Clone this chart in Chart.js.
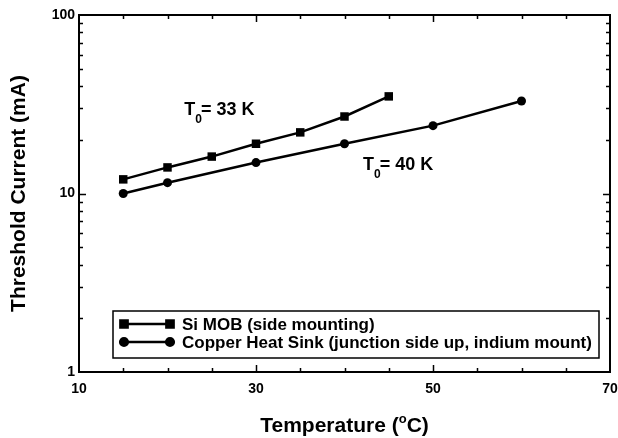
<!DOCTYPE html>
<html>
<head>
<meta charset="utf-8">
<script src="https://cdn.jsdelivr.net/npm/chart.js@4/dist/chart.umd.min.js"></script>
<style>
  html, body { margin: 0; padding: 0; background: #fff; }
  canvas { display: block; }
</style>
</head>
<body>
<canvas id="chart" width="618" height="438"></canvas>
<script>
// Data
const siTemps = [15, 20, 25, 30, 35, 40, 45];
const siCurrent = [12, 14, 16.1, 19, 22, 27, 35];
const cuTemps = [15, 20, 30, 40, 50, 60];
const cuCurrent = [10, 11.5, 14.9, 19, 24, 33];
const seriesLabels = ['Si MOB (side mounting)', 'Copper Heat Sink (junction side up, indium mount)'];
const xTicks = [10, 30, 50, 70];
const yTicks = [1, 10, 100];
const t0Labels = ['33 K', '40 K'];
const xTitle = ['Temperature (', 'o', 'C)'];
const yTitle = 'Threshold Current (mA)';

const FONT = '"Liberation Sans", Arial, Helvetica, sans-serif';

function pairs(xs, ys) {
  return xs.map((x, i) => ({ x, y: ys[i] }));
}

// Frame, inward ticks on all four sides, legend box, notes and x title
const decor = {
  id: 'decor',
  afterDraw(chart, args, opts) {
    const { ctx, chartArea: a, scales: { x, y } } = chart;
    ctx.save();
    ctx.strokeStyle = '#000';
    ctx.fillStyle = '#000';

    ctx.lineWidth = 2;
    ctx.strokeRect(a.left, a.top, a.right - a.left, a.bottom - a.top);

    ctx.lineWidth = 1.5;
    ctx.beginPath();
    for (let t = 15; t < 70; t += 5) {
      const px = Math.round(x.getPixelForValue(t)) + 0.5;
      const len = xTicks.includes(t) ? 7 : 4;
      ctx.moveTo(px, a.bottom); ctx.lineTo(px, a.bottom - len);
      ctx.moveTo(px, a.top); ctx.lineTo(px, a.top + len);
    }
    for (let d = 1; d < 100; d *= 10) {
      for (let k = 1; k <= 9; k++) {
        const v = d * k;
        if (v === 1) continue;
        const py = Math.round(y.getPixelForValue(v)) + 0.5;
        const len = k === 1 ? 7 : 4;
        ctx.moveTo(a.left, py); ctx.lineTo(a.left + len, py);
        ctx.moveTo(a.right, py); ctx.lineTo(a.right - len, py);
      }
    }
    ctx.stroke();

    // legend
    const lb = opts.legend;
    const bx = a.left + lb.left, by = a.top + lb.top;
    const bw = a.right - lb.right - bx, bh = a.bottom - lb.bottom - by;
    ctx.fillStyle = '#fff';
    ctx.fillRect(bx, by, bw, bh);
    ctx.fillStyle = '#000';
    ctx.lineWidth = 1.5;
    ctx.strokeRect(bx, by, bw, bh);
    ctx.font = 'bold 17px ' + FONT;
    ctx.textBaseline = 'middle';
    ctx.textAlign = 'left';
    chart.data.datasets.forEach((ds, i) => {
      const ry = by + lb.row0 + i * lb.rowGap;
      const x0 = bx + lb.sampleStart, x1 = x0 + lb.sampleLen;
      ctx.lineWidth = ds.borderWidth;
      ctx.beginPath(); ctx.moveTo(x0, ry); ctx.lineTo(x1, ry); ctx.stroke();
      [x0, x1].forEach(px => {
        Chart.helpers.drawPoint(ctx, { pointStyle: ds.pointStyle, radius: ds.pointRadius * 0.85, rotation: 0, borderWidth: 1 }, px, ry);
        ctx.fill();
      });
      ctx.fillText(ds.label, x1 + lb.textGap, ry + 1);
    });

    // T0 notes
    ctx.textBaseline = 'alphabetic';
    opts.notes.forEach((n, i) => {
      let px = x.getPixelForValue(n.x);
      const py = y.getPixelForValue(n.y);
      ctx.font = 'bold 18px ' + FONT;
      ctx.fillText('T', px, py);
      px += ctx.measureText('T').width;
      ctx.font = 'bold 12px ' + FONT;
      ctx.fillText('0', px, py + 8);
      px += ctx.measureText('0').width - 1;
      ctx.font = 'bold 18px ' + FONT;
      ctx.fillText('= ' + t0Labels[i], px, py);
    });

    // x axis title with superscript degree
    ctx.font = 'bold 21px ' + FONT;
    const w0 = ctx.measureText(xTitle[0]).width;
    const w2 = ctx.measureText(xTitle[2]).width;
    ctx.font = 'bold 13px ' + FONT;
    const w1 = ctx.measureText(xTitle[1]).width;
    let tx = (a.left + a.right) / 2 - (w0 + w1 + w2) / 2;
    const ty = opts.xTitleBaseline;
    ctx.font = 'bold 21px ' + FONT;
    ctx.fillText(xTitle[0], tx, ty);
    tx += w0;
    ctx.font = 'bold 13px ' + FONT;
    ctx.fillText(xTitle[1], tx, ty - 9);
    tx += w1;
    ctx.font = 'bold 21px ' + FONT;
    ctx.fillText(xTitle[2], tx, ty);
    ctx.restore();
  }
};

new Chart(document.getElementById('chart'), {
  type: 'line',
  data: {
    datasets: [
      {
        label: seriesLabels[0],
        data: pairs(siTemps, siCurrent),
        borderColor: '#000', backgroundColor: '#000',
        borderWidth: 2.5, pointStyle: 'rect', pointRadius: 6,
        pointBackgroundColor: '#000', pointBorderWidth: 0
      },
      {
        label: seriesLabels[1],
        data: pairs(cuTemps, cuCurrent),
        borderColor: '#000', backgroundColor: '#000',
        borderWidth: 2.5, pointStyle: 'circle', pointRadius: 4.5,
        pointBackgroundColor: '#000', pointBorderWidth: 0
      }
    ]
  },
  options: {
    responsive: false,
    animation: false,
    layout: { padding: { top: 15, right: 8, left: 0, bottom: 0 } },
    plugins: {
      legend: { display: false },
      tooltip: { enabled: false },
      decor: {
        legend: { left: 34, top: 296, right: 11, bottom: 14, row0: 13, rowGap: 18, sampleStart: 11, sampleLen: 46, textGap: 12 },
        notes: [{ x: 21.9, y: 27.7 }, { x: 42.1, y: 13.6 }],
        xTitleBaseline: 432
      }
    },
    scales: {
      x: {
        type: 'linear', min: 10, max: 70,
        grid: { display: false, drawTicks: false },
        border: { display: false },
        afterBuildTicks: s => { s.ticks = xTicks.map(v => ({ value: v })); },
        afterFit: s => { s.height = 66; s.paddingLeft = 0; s.paddingRight = 0; },
        ticks: { color: '#000', padding: 9, font: { family: FONT, size: 14, weight: 'bold' }, maxRotation: 0 }
      },
      y: {
        type: 'logarithmic', min: 1, max: 100,
        grid: { display: false, drawTicks: false },
        border: { display: false },
        afterBuildTicks: s => { s.ticks = yTicks.map(v => ({ value: v })); },
        afterFit: s => { s.width = 79; s.paddingTop = 0; s.paddingBottom = 0; },
        ticks: { color: '#000', padding: 4, font: { family: FONT, size: 14, weight: 'bold' }, callback: v => String(v) },
        title: { display: true, text: yTitle, color: '#000', padding: { top: 7, bottom: 0 }, font: { family: FONT, size: 21, weight: 'bold' } }
      }
    }
  },
  plugins: [decor]
});
</script>
</body>
</html>
